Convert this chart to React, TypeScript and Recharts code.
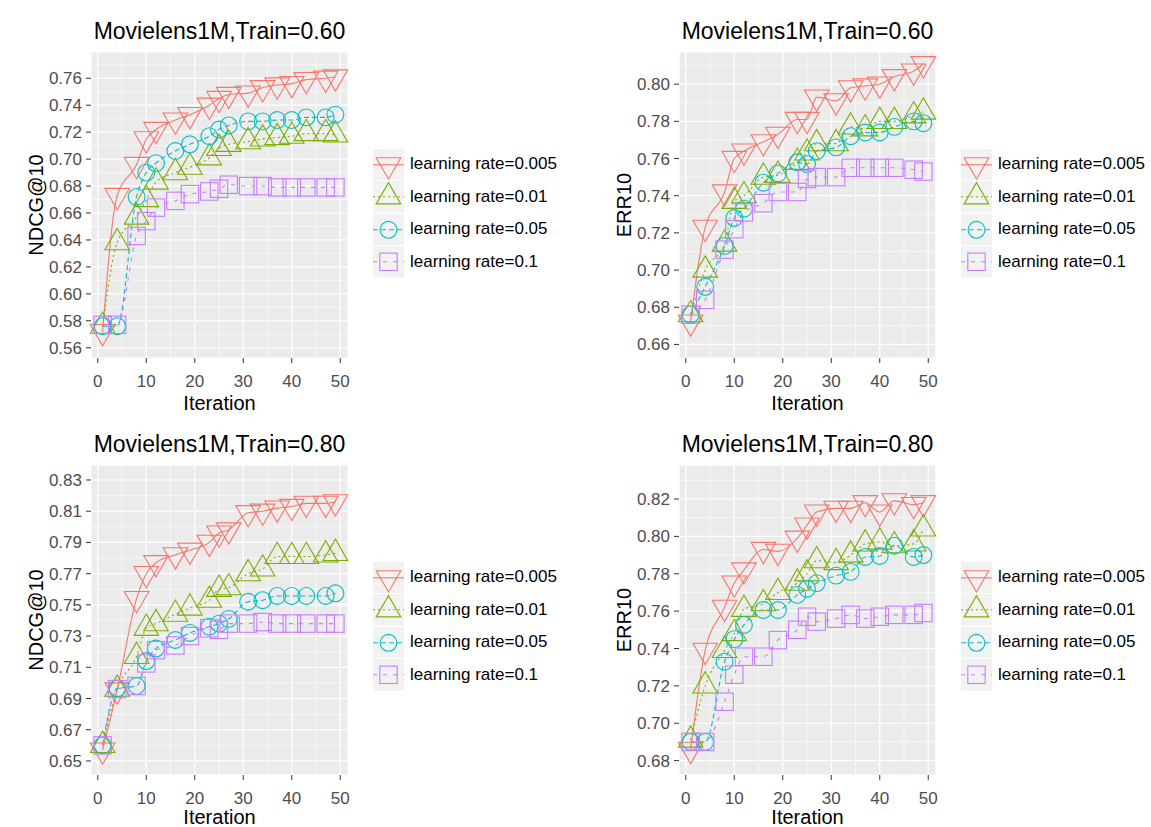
import React from 'react';
import { LineChart, Line, XAxis, YAxis, CartesianGrid, Legend } from 'recharts';

// iterations where the curves were sampled
const ITER = [1, 4, 8, 10, 12, 16, 19, 23, 25, 27, 31, 34, 37, 40, 43, 47, 49];

const SERIES_LABELS = ['learning rate=0.005', 'learning rate=0.01', 'learning rate=0.05', 'learning rate=0.1'];

// NDCG@10, Train=0.60
const NDCG60_LR0005 = [0.572, 0.673, 0.696, 0.715, 0.722, 0.729, 0.733, 0.740, 0.745, 0.748, 0.749, 0.753, 0.755, 0.756, 0.759, 0.760, 0.761];
const NDCG60_LR001 = [0.576, 0.638, 0.657, 0.670, 0.683, 0.690, 0.694, 0.701, 0.708, 0.711, 0.713, 0.715, 0.716, 0.717, 0.719, 0.719, 0.718];
const NDCG60_LR005 = [0.576, 0.576, 0.672, 0.690, 0.697, 0.706, 0.711, 0.717, 0.722, 0.725, 0.728, 0.728, 0.729, 0.729, 0.731, 0.731, 0.733];
const NDCG60_LR01 = [0.577, 0.577, 0.643, 0.654, 0.664, 0.669, 0.674, 0.676, 0.678, 0.681, 0.680, 0.680, 0.679, 0.679, 0.679, 0.679, 0.679];

// ERR10, Train=0.60
const ERR60_LR0005 = [0.672, 0.723, 0.742, 0.760, 0.764, 0.769, 0.773, 0.781, 0.781, 0.793, 0.791, 0.798, 0.799, 0.800, 0.804, 0.807, 0.811];
const ERR60_LR001 = [0.676, 0.700, 0.714, 0.737, 0.740, 0.750, 0.751, 0.758, 0.763, 0.768, 0.768, 0.777, 0.776, 0.780, 0.780, 0.783, 0.785];
const ERR60_LR005 = [0.676, 0.691, 0.713, 0.728, 0.733, 0.747, 0.752, 0.758, 0.757, 0.764, 0.766, 0.772, 0.774, 0.774, 0.777, 0.780, 0.779];
const ERR60_LR01 = [0.676, 0.684, 0.711, 0.722, 0.731, 0.736, 0.742, 0.742, 0.749, 0.750, 0.750, 0.755, 0.755, 0.755, 0.755, 0.754, 0.753];

// NDCG@10, Train=0.80
const NDCG80_LR0005 = [0.657, 0.6955, 0.754, 0.770, 0.777, 0.782, 0.785, 0.790, 0.796, 0.798, 0.809, 0.810, 0.812, 0.813, 0.815, 0.815, 0.816];
const NDCG80_LR001 = [0.660, 0.696, 0.717, 0.735, 0.738, 0.744, 0.748, 0.753, 0.760, 0.761, 0.770, 0.773, 0.781, 0.781, 0.781, 0.782, 0.783];
const NDCG80_LR005 = [0.660, 0.6965, 0.698, 0.714, 0.722, 0.7275, 0.732, 0.736, 0.738, 0.741, 0.752, 0.753, 0.7557, 0.7557, 0.7557, 0.7557, 0.7574];
const NDCG80_LR01 = [0.660, 0.696, 0.698, 0.7125, 0.721, 0.724, 0.730, 0.735, 0.734, 0.738, 0.738, 0.739, 0.738, 0.738, 0.738, 0.738, 0.738];

// ERR10, Train=0.80
const ERR80_LR0005 = [0.686, 0.739, 0.762, 0.775, 0.782, 0.793, 0.792, 0.799, 0.806, 0.813, 0.815, 0.815, 0.818, 0.813, 0.819, 0.817, 0.818];
const ERR80_LR001 = [0.691, 0.720, 0.739, 0.748, 0.761, 0.764, 0.770, 0.775, 0.780, 0.787, 0.786, 0.790, 0.796, 0.797, 0.795, 0.796, 0.804];
const ERR80_LR005 = [0.690, 0.690, 0.733, 0.745, 0.7526, 0.7606, 0.7606, 0.7687, 0.772, 0.775, 0.779, 0.781, 0.789, 0.7895, 0.795, 0.789, 0.790];
const ERR80_LR01 = [0.690, 0.690, 0.7115, 0.726, 0.7356, 0.7356, 0.7445, 0.750, 0.757, 0.7544, 0.756, 0.758, 0.756, 0.757, 0.758, 0.758, 0.759];

// axis ticks and grid values
const X_TICKS = [0, 10, 20, 30, 40, 50];
const X_MINOR = [5, 15, 25, 35, 45];
const NDCG60_TICKS = [0.56, 0.58, 0.6, 0.62, 0.64, 0.66, 0.68, 0.7, 0.72, 0.74, 0.76];
const NDCG60_MINOR = [0.57, 0.59, 0.61, 0.63, 0.65, 0.67, 0.69, 0.71, 0.73, 0.75, 0.77];
const ERR60_TICKS = [0.66, 0.68, 0.7, 0.72, 0.74, 0.76, 0.78, 0.8];
const ERR60_MINOR = [0.67, 0.69, 0.71, 0.73, 0.75, 0.77, 0.79, 0.81];
const NDCG80_TICKS = [0.65, 0.67, 0.69, 0.71, 0.73, 0.75, 0.77, 0.79, 0.81, 0.83];
const NDCG80_MINOR = [0.66, 0.68, 0.7, 0.72, 0.74, 0.76, 0.78, 0.8, 0.82];
const ERR80_TICKS = [0.68, 0.7, 0.72, 0.74, 0.76, 0.78, 0.8, 0.82];
const ERR80_MINOR = [0.69, 0.71, 0.73, 0.75, 0.77, 0.79, 0.81, 0.83];

const COLORS = ['#F8766D', '#7CAE00', '#00BFC4', '#C77CFF'];
const DASHES = [undefined, '2 3', '5 3', '4 6'];
const SHAPES = ['down', 'up', 'circle', 'square'];

const X_DOMAIN = [-1.4, 51.6];
const PLOT_LEFT = 91;
const PLOT_RIGHT = 348;
const PLOT_TOP = 52;

const Marker = ({ shape, cx, cy, color }: { shape: string; cx: number; cy: number; color: string }) => {
  const hw = 12.3;
  const r = 14.2;
  const common = { fill: 'none', stroke: color, strokeWidth: 1.1 };
  if (shape === 'down') {
    return <polygon points={`${cx},${cy + r} ${cx + hw},${cy - r / 2} ${cx - hw},${cy - r / 2}`} {...common} />;
  }
  if (shape === 'up') {
    return <polygon points={`${cx},${cy - r} ${cx + hw},${cy + r / 2} ${cx - hw},${cy + r / 2}`} {...common} />;
  }
  if (shape === 'circle') {
    return <circle cx={cx} cy={cy} r={8.4} {...common} />;
  }
  return <rect x={cx - 8.7} y={cy - 8.7} width={17.4} height={17.4} {...common} />;
};

const LegendBox = () => (
  <div style={{ fontFamily: '"Liberation Sans", Arial, sans-serif' }}>
    {SERIES_LABELS.map((label, i) => (
      <div key={label} style={{ display: 'flex', alignItems: 'center', height: 32.6 }}>
        <svg width={31} height={31.6} style={{ display: 'block' }}>
          <rect x={0} y={0} width={31} height={31.6} fill="#F2F2F2" />
          <line x1={0} x2={31} y1={15.8} y2={15.8} stroke={COLORS[i]} strokeWidth={1.1} strokeDasharray={DASHES[i]} />
          <Marker shape={SHAPES[i]} cx={15.5} cy={15.8} color={COLORS[i]} />
        </svg>
        <span style={{ marginLeft: 6, fontSize: 17, color: '#000', whiteSpace: 'nowrap' }}>{label}</span>
      </div>
    ))}
  </div>
);

interface PanelProps {
  left: number;
  top: number;
  width: number;
  height: number;
  plotHeight: number;
  xTitleGap: number;
  title: string;
  yLabel: string;
  yDomain: number[];
  yTicks: number[];
  yMinor: number[];
  series: number[][];
}

const Panel = ({ left, top, width, height, plotHeight, xTitleGap, title, yLabel, yDomain, yTicks, yMinor, series }: PanelProps) => {
  const rows = ITER.map((it, j) => ({
    iter: it,
    s0: series[0][j],
    s1: series[1][j],
    s2: series[2][j],
    s3: series[3][j],
  }));
  const xAxisHeight = 60;

  return (
    <div style={{ position: 'absolute', left, top }}>
      <div
        style={{
          position: 'absolute',
          left: PLOT_LEFT - 20,
          top: PLOT_TOP - 32,
          width: PLOT_RIGHT - PLOT_LEFT + 40,
          textAlign: 'center',
          fontSize: 23,
          lineHeight: '23px',
          color: '#000',
          whiteSpace: 'nowrap',
          zIndex: 2,
        }}
      >
        {title}
      </div>
      <LineChart
        width={width}
        height={height}
        data={rows}
        margin={{ top: PLOT_TOP, right: width - PLOT_RIGHT, bottom: height - PLOT_TOP - plotHeight - xAxisHeight, left: 0 }}
      >
        <CartesianGrid fill="#EBEBEB" stroke="#FFFFFF" strokeWidth={0.6} horizontalValues={yMinor} verticalValues={X_MINOR} />
        <CartesianGrid stroke="#FFFFFF" strokeWidth={1.2} />
        <XAxis
          type="number"
          dataKey="iter"
          domain={X_DOMAIN}
          ticks={X_TICKS}
          interval={0}
          height={xAxisHeight}
          axisLine={false}
          tickSize={5}
          tickMargin={12}
          tickLine={{ stroke: '#333333' }}
          tick={{ fill: '#4D4D4D', fontSize: 17 }}
          label={{
            content: (p: any) => {
              const vb = p.viewBox;
              return (
                <text x={vb.x + vb.width / 2} y={vb.y + xTitleGap} textAnchor="middle" fontSize={20} fill="#000">
                  Iteration
                </text>
              );
            },
          }}
        />
        <YAxis
          type="number"
          domain={yDomain}
          ticks={yTicks}
          interval={0}
          width={PLOT_LEFT}
          axisLine={false}
          tickSize={5}
          tickMargin={4}
          tickLine={{ stroke: '#333333' }}
          tick={{ fill: '#4D4D4D', fontSize: 17 }}
          tickFormatter={(v: number) => v.toFixed(2)}
          label={{
            content: (p: any) => {
              const vb = p.viewBox;
              const x = vb.x + vb.width - 48;
              const y = vb.y + vb.height / 2;
              return (
                <text x={x} y={y} transform={`rotate(-90 ${x} ${y})`} textAnchor="middle" fontSize={20} fill="#000">
                  {yLabel}
                </text>
              );
            },
          }}
        />
        <Legend
          layout="horizontal"
          verticalAlign="middle"
          wrapperStyle={{ left: 373, top: PLOT_TOP + 96, width: 200 }}
          content={() => <LegendBox />}
        />
        {COLORS.map((c, i) => (
          <Line
            key={c}
            type="monotone"
            dataKey={`s${i}`}
            stroke={c}
            strokeWidth={1.1}
            strokeDasharray={DASHES[i]}
            isAnimationActive={false}
            activeDot={false}
            dot={(p: any) => <Marker key={`${c}-${p.index}`} shape={SHAPES[i]} cx={p.cx} cy={p.cy} color={c} />}
          />
        ))}
      </LineChart>
    </div>
  );
};

const App = () => (
  <div
    style={{
      position: 'absolute',
      left: 0,
      top: 0,
      width: 1151,
      height: 827,
      overflow: 'hidden',
      background: '#FFFFFF',
      fontFamily: '"Liberation Sans", Arial, sans-serif',
    }}
  >
    <Panel
      left={0}
      top={0}
      width={588}
      height={420}
      plotHeight={306}
      xTitleGap={52}
      title="Movielens1M,Train=0.60"
      yLabel="NDCG@10"
      yDomain={[0.5524, 0.7795]}
      yTicks={NDCG60_TICKS}
      yMinor={NDCG60_MINOR}
      series={[NDCG60_LR0005, NDCG60_LR001, NDCG60_LR005, NDCG60_LR01]}
    />
    <Panel
      left={588}
      top={0}
      width={563}
      height={420}
      plotHeight={306}
      xTitleGap={52}
      title="Movielens1M,Train=0.60"
      yLabel="ERR10"
      yDomain={[0.6527, 0.8173]}
      yTicks={ERR60_TICKS}
      yMinor={ERR60_MINOR}
      series={[ERR60_LR0005, ERR60_LR001, ERR60_LR005, ERR60_LR01]}
    />
    <Panel
      left={0}
      top={413}
      width={588}
      height={430}
      plotHeight={310}
      xTitleGap={49}
      title="Movielens1M,Train=0.80"
      yLabel="NDCG@10"
      yDomain={[0.641, 0.8396]}
      yTicks={NDCG80_TICKS}
      yMinor={NDCG80_MINOR}
      series={[NDCG80_LR0005, NDCG80_LR001, NDCG80_LR005, NDCG80_LR01]}
    />
    <Panel
      left={588}
      top={413}
      width={563}
      height={430}
      plotHeight={310}
      xTitleGap={49}
      title="Movielens1M,Train=0.80"
      yLabel="ERR10"
      yDomain={[0.6723, 0.8382]}
      yTicks={ERR80_TICKS}
      yMinor={ERR80_MINOR}
      series={[ERR80_LR0005, ERR80_LR001, ERR80_LR005, ERR80_LR01]}
    />
  </div>
);

export default App;
